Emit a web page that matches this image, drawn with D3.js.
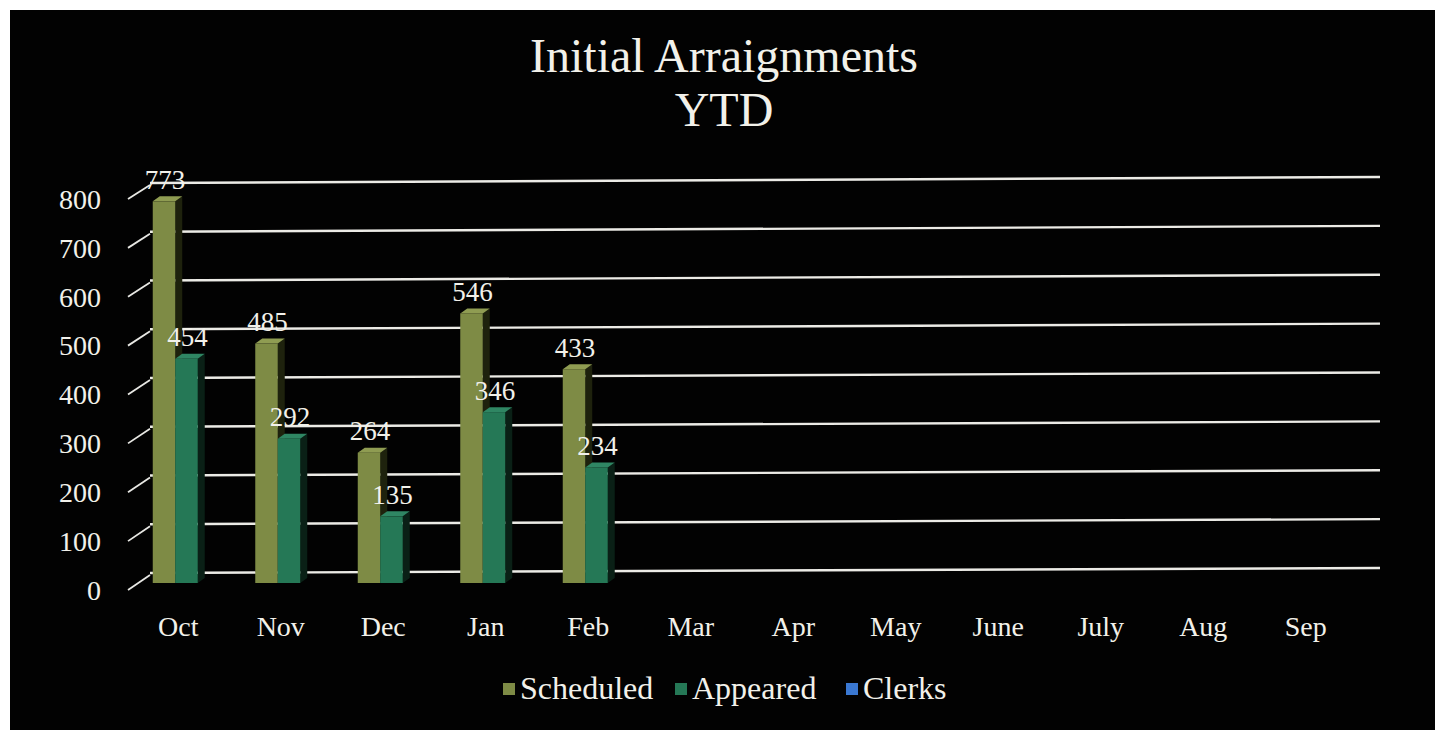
<!DOCTYPE html>
<html><head><meta charset="utf-8">
<script src="https://cdnjs.cloudflare.com/ajax/libs/d3/7.8.5/d3.min.js"></script>
<style>html,body{margin:0;padding:0;background:#fff;overflow:hidden}</style>
</head><body>
<svg id="c" width="1435" height="730"></svg>
<script>
const categories = ["Oct","Nov","Dec","Jan","Feb","Mar","Apr","May","June","July","Aug","Sep"];
const scheduled = [773, 485, 264, 546, 433, null, null, null, null, null, null, null];
const appeared  = [454, 292, 135, 346, 234, null, null, null, null, null, null, null];
const clerks    = [null, null, null, null, null, null, null, null, null, null, null, null];
const seriesNames = ["Scheduled", "Appeared", "Clerks"];
const yTicks = [0, 100, 200, 300, 400, 500, 600, 700, 800];
const titleLines = ["Initial Arraignments", "YTD"];

const series = [
  {name: seriesNames[0], values: scheduled, front: "#7e8b45", side: "#1e220d", top: "#8f9c52"},
  {name: seriesNames[1], values: appeared,  front: "#257856", side: "#0a2016", top: "#2f8663"},
  {name: seriesNames[2], values: clerks,    front: "#3a78d2", side: "#15305a", top: "#5a90e0"}
];

const svg = d3.select("#c");
const FONT = "'Liberation Serif', 'Times New Roman', serif";
const TXT = "#f2f1ea";

svg.append("rect").attr("x", 10).attr("y", 10).attr("width", 1440).attr("height", 740).attr("fill", "#020202");

// scales
const x = d3.scaleBand().domain(categories).range([127, 1357]).paddingInner(0).paddingOuter(0);
const yFront = d3.scaleLinear().domain([0, 800]).range([590, 199]);   // front axis labels
const yBackL = d3.scaleLinear().domain([0, 800]).range([573, 183]);   // back wall, left end
const yBackR = d3.scaleLinear().domain([0, 800]).range([568, 177]);   // back wall, right end
const yBar   = d3.scaleLinear().domain([0, 800]).range([583, 188]);   // bar front faces
const backX0 = 150, backX1 = 1380;
const barW = 22.5, dx = 7, dy = -5;

// gridlines (back wall)
svg.append("g").selectAll("line").data(yTicks).join("line")
  .attr("x1", backX0).attr("x2", backX1)
  .attr("y1", d => yBackL(d)).attr("y2", d => yBackR(d))
  .attr("stroke", "#ecebe6").attr("stroke-width", 2.4);

// diagonal connectors (depth)
svg.append("g").selectAll("line").data(yTicks).join("line")
  .attr("x1", 128).attr("y1", d => yFront(d))
  .attr("x2", backX0).attr("y2", d => yBackL(d) + 2)
  .attr("stroke", "#e8e8e4").attr("stroke-width", 1.8);

// y tick labels
svg.append("g").selectAll("text").data(yTicks).join("text")
  .attr("x", 101).attr("y", d => yFront(d)).attr("dy", "0.35em")
  .attr("text-anchor", "end").attr("font-family", FONT).attr("font-size", 28)
  .attr("fill", TXT).text(d => d);

// bars
const nShown = 2;
const gBars = svg.append("g");
categories.forEach((c, i) => {
  const boundary = x(c) + x.bandwidth() / 2 - 3;
  series.slice(0, nShown).forEach((s, k) => {
    const v = s.values[i];
    if (v == null) return;
    const x0 = boundary - barW + k * barW;
    const yt = yBar(v), yb = yBar(0);
    gBars.append("path")
      .attr("d", `M${x0 + barW},${yb} L${x0 + barW + dx},${yb + dy} L${x0 + barW + dx},${yt + dy} L${x0 + barW},${yt} Z`)
      .attr("fill", s.side);
    gBars.append("path")
      .attr("d", `M${x0},${yt} L${x0 + dx},${yt + dy} L${x0 + barW + dx},${yt + dy} L${x0 + barW},${yt} Z`)
      .attr("fill", s.top);
    gBars.append("rect").attr("x", x0).attr("y", yt).attr("width", barW).attr("height", yb - yt)
      .attr("fill", s.front);
  });
});

// data labels
const gLab = svg.append("g");
categories.forEach((c, i) => {
  const boundary = x(c) + x.bandwidth() / 2 - 3;
  series.slice(0, nShown).forEach((s, k) => {
    const v = s.values[i];
    if (v == null) return;
    const cx = boundary - barW / 2 + k * barW + 1;
    gLab.append("text").attr("x", cx).attr("y", yBar(v) - 22).attr("dy", "0.35em")
      .attr("text-anchor", "middle").attr("font-family", FONT).attr("font-size", 27)
      .attr("fill", TXT).text(v);
  });
});

// category labels
svg.append("g").selectAll("text").data(categories).join("text")
  .attr("x", d => x(d) + x.bandwidth() / 2).attr("y", 626).attr("dy", "0.35em")
  .attr("text-anchor", "middle").attr("font-family", FONT).attr("font-size", 28)
  .attr("fill", TXT).text(d => d);

// title
svg.append("g").selectAll("text").data(titleLines).join("text")
  .attr("x", 724).attr("y", (d, i) => 72 + i * 54)
  .attr("text-anchor", "middle").attr("font-family", FONT).attr("font-size", 48)
  .attr("fill", TXT).text(d => d);

// legend
const legX = [503, 675, 846];
const gLeg = svg.append("g");
series.forEach((s, k) => {
  gLeg.append("rect").attr("x", legX[k]).attr("y", 683).attr("width", 12).attr("height", 12).attr("fill", s.front);
  gLeg.append("text").attr("x", legX[k] + 17).attr("y", 699)
    .attr("font-family", FONT).attr("font-size", 32).attr("fill", TXT).text(s.name);
});
</script>
</body></html>
